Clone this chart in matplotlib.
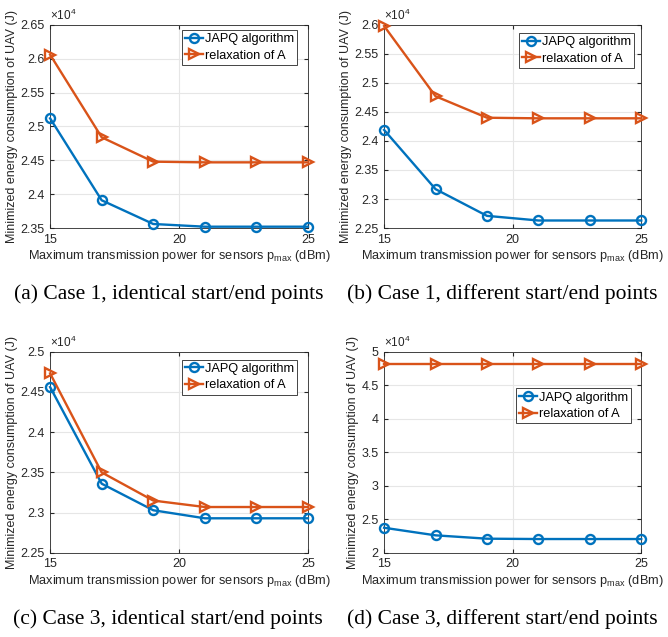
import matplotlib.pyplot as plt
from matplotlib.ticker import FuncFormatter

# data (J)
p_max = [15, 17, 19, 21, 23, 25]

japq_a = [25120, 23910, 23560, 23520, 23520, 23520]
relax_a = [26060, 24840, 24480, 24470, 24470, 24470]

japq_b = [24190, 23170, 22710, 22630, 22630, 22630]
relax_b = [25980, 24770, 24400, 24390, 24390, 24390]

japq_c = [24560, 23360, 23030, 22930, 22930, 22930]
relax_c = [24730, 23500, 23150, 23070, 23070, 23070]

japq_d = [23750, 22620, 22120, 22070, 22070, 22070]
relax_d = [48220, 48220, 48220, 48220, 48220, 48220]

captions = ['(a) Case 1, identical start/end points',
            '(b) Case 1, different start/end points',
            '(c) Case 3, identical start/end points',
            '(d) Case 3, different start/end points']

yticks_a = [23500, 24000, 24500, 25000, 25500, 26000, 26500]
yticks_b = [22500, 23000, 23500, 24000, 24500, 25000, 25500, 26000]
yticks_c = [22500, 23000, 23500, 24000, 24500, 25000]
yticks_d = [20000, 25000, 30000, 35000, 40000, 45000, 50000]
xticks = [15, 20, 25]

blue = '#0072BD'
orange = '#D95319'
axcol = '#262626'

plt.rcParams['font.family'] = ['Liberation Sans', 'DejaVu Sans']
plt.rcParams['mathtext.default'] = 'regular'

fig = plt.figure(figsize=(6.68, 6.37), dpi=100)

positions = [[0.075, 0.642, 0.386, 0.319],
             [0.575, 0.642, 0.385, 0.319],
             [0.075, 0.132, 0.386, 0.316],
             [0.575, 0.132, 0.385, 0.316]]
series = [(japq_a, relax_a, yticks_a), (japq_b, relax_b, yticks_b),
          (japq_c, relax_c, yticks_c), (japq_d, relax_d, yticks_d)]
legend_anchor = [(0.957, 0.975), (0.973, 0.96), (0.957, 0.96), (0.96, 0.817)]

for i in range(4):
    japq, relax, yt = series[i]
    ax = fig.add_axes(positions[i])
    ax.plot(p_max, japq, '-o', color=blue, lw=1.7, ms=6.5, mfc='none',
            mew=1.7, label='JAPQ algorithm', clip_on=False, zorder=3)
    ax.plot(p_max, relax, '->', color=orange, lw=1.7, ms=7, mfc='none',
            mew=1.7, label='relaxation of A', clip_on=False, zorder=3)
    ax.set_xlim(15, 25)
    ax.set_ylim(yt[0], yt[-1])
    ax.set_xticks(xticks)
    ax.set_yticks(yt)
    ax.yaxis.set_major_formatter(FuncFormatter(lambda v, pos: f'{v / 1e4:g}'))
    ax.grid(True, color='#e6e6e6', lw=0.8)
    ax.set_axisbelow(True)
    ax.tick_params(direction='in', length=3, labelsize=9, colors=axcol,
                   top=True, right=True, pad=4)
    for s in ax.spines.values():
        s.set_color(axcol)
        s.set_linewidth(0.6)
    ax.set_xlabel('Maximum transmission power for sensors p$_{max}$ (dBm)',
                  fontsize=9.2, color=axcol, labelpad=2)
    ax.set_ylabel('Minimized energy consumption of UAV (J)',
                  fontsize=9.0, color=axcol, labelpad=2)
    # MATLAB-style exponent label above the y axis
    ax.text(0.0, 1.01, r'$\times10^4$', transform=ax.transAxes,
            fontsize=8.5, color=axcol, ha='left', va='bottom')
    leg = ax.legend(loc='upper right', bbox_to_anchor=legend_anchor[i],
                    borderaxespad=0, fontsize=9.2, fancybox=False,
                    edgecolor=axcol, framealpha=1, handlelength=1.4,
                    handletextpad=0.15, borderpad=0.25, labelspacing=0.35)
    leg.get_frame().set_linewidth(0.6)
    pos = positions[i]
    fig.text(pos[0] + pos[2] / 2 - 0.016, pos[1] - 0.104, captions[i],
             family='Liberation Serif', fontsize=15.5, ha='center',
             va='center')

fig.savefig('out.png', dpi=100)
